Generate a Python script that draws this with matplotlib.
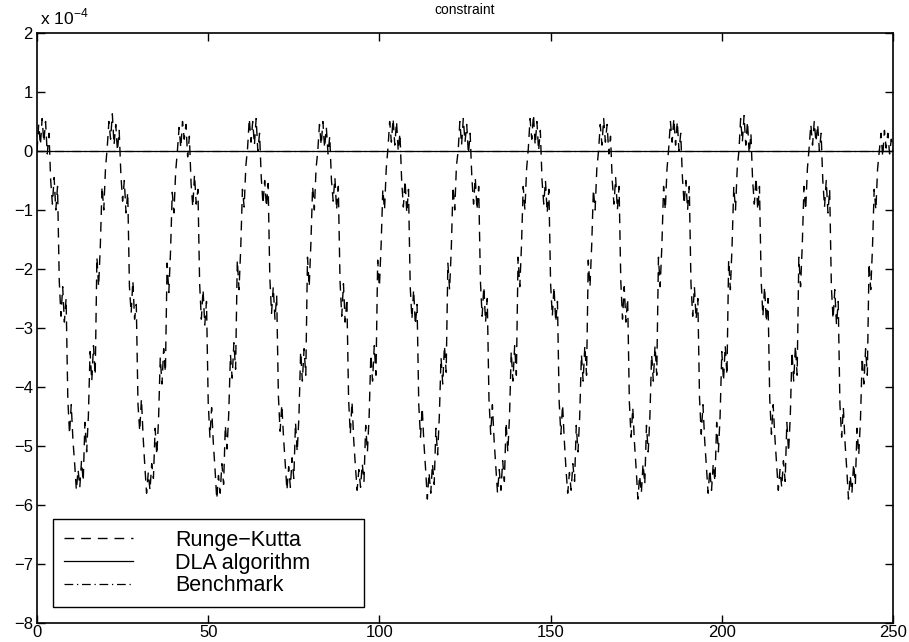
import numpy as np
import matplotlib
matplotlib.use('Agg')
import matplotlib.pyplot as plt

plt.rcParams['font.family'] = ['Liberation Sans', 'DejaVu Sans']
plt.rcParams['mathtext.fontset'] = 'custom'
plt.rcParams['mathtext.rm'] = 'Liberation Sans'

# time axis, step 0.5
t = np.arange(0, 250.01, 0.5)

# Runge-Kutta constraint error (units of 1e-4), one row per oscillation (~20.5 s)
rk = [
    0.0, 0.45, 0.1, 0.55, 0.15, 0.5, -0.05, 0.3, -0.5, -0.9, -0.45, -1.0, -0.6, -2.2, -2.8, -2.3, -2.9, -2.5, -4.2, -4.8, -4.3, -4.9, -5.3, -5.75, -5.4, -5.7, -5.25, -5.6, -4.6, -5.1, -4.5, -3.4, -3.9, -3.3, -3.8, -1.8, -2.3, -1.6, -0.6, -1.0, -0.3,
    0.05, 0.5, 0.2, 0.63, 0.1, 0.45, 0.0, 0.35, -0.4, -0.85, -0.5, -1.05, -0.7, -2.3, -2.75, -2.2, -2.85, -2.6, -4.3, -4.75, -4.2, -4.85, -5.35, -5.8, -5.45, -5.75, -5.3, -5.55, -4.7, -5.15, -4.55, -3.5, -3.95, -3.35, -3.75, -1.9, -2.4, -1.7, -0.7, -1.05, -0.35,
    0.0, 0.4, 0.05, 0.5, 0.2, 0.45, -0.1, 0.25, -0.55, -0.95, -0.4, -0.9, -0.65, -2.25, -2.85, -2.35, -2.95, -2.55, -4.25, -4.85, -4.35, -4.95, -5.4, -5.9, -5.5, -5.8, -5.3, -5.65, -4.65, -5.05, -4.45, -3.45, -3.85, -3.25, -3.7, -1.85, -2.35, -1.65, -0.65, -0.95, -0.25,
    0.05, 0.55, 0.15, 0.5, 0.1, 0.55, 0.0, 0.3, -0.45, -0.9, -0.5, -0.95, -0.55, -2.15, -2.75, -2.3, -2.85, -2.45, -4.15, -4.75, -4.3, -4.85, -5.3, -5.75, -5.35, -5.7, -5.2, -5.55, -4.6, -5.1, -4.5, -3.4, -3.9, -3.35, -3.8, -1.8, -2.3, -1.55, -0.6, -1.0, -0.3,
    0.0, 0.45, 0.1, 0.5, 0.05, 0.4, -0.05, 0.25, -0.5, -0.85, -0.45, -1.0, -0.6, -2.2, -2.8, -2.25, -2.9, -2.5, -4.2, -4.8, -4.25, -4.9, -5.35, -5.75, -5.4, -5.7, -5.3, -5.6, -4.65, -5.1, -4.5, -3.45, -3.9, -3.3, -3.8, -1.85, -2.3, -1.6, -0.65, -1.0, -0.3,
    0.05, 0.5, 0.15, 0.55, 0.1, 0.5, 0.0, 0.3, -0.5, -0.95, -0.5, -1.05, -0.65, -2.3, -2.85, -2.35, -2.95, -2.6, -4.3, -4.85, -4.35, -4.95, -5.4, -5.9, -5.45, -5.8, -5.3, -5.65, -4.7, -5.15, -4.5, -3.5, -3.95, -3.3, -3.75, -1.9, -2.35, -1.65, -0.6, -1.0, -0.25,
    0.0, 0.5, 0.1, 0.55, 0.15, 0.45, -0.05, 0.3, -0.45, -0.9, -0.45, -1.0, -0.6, -2.2, -2.8, -2.3, -2.9, -2.5, -4.2, -4.8, -4.3, -4.9, -5.35, -5.8, -5.4, -5.75, -5.25, -5.6, -4.6, -5.1, -4.5, -3.4, -3.9, -3.3, -3.8, -1.8, -2.3, -1.6, -0.6, -1.0, -0.3,
    0.05, 0.55, 0.2, 0.62, 0.1, 0.5, 0.0, 0.35, -0.5, -0.9, -0.5, -1.05, -0.65, -2.25, -2.8, -2.3, -2.9, -2.55, -4.25, -4.8, -4.3, -4.9, -5.4, -5.8, -5.45, -5.75, -5.3, -5.6, -4.65, -5.1, -4.5, -3.45, -3.9, -3.3, -3.8, -1.85, -2.3, -1.6, -0.65, -1.0, -0.3,
    0.0, 0.45, 0.1, 0.55, 0.15, 0.45, -0.05, 0.25, -0.5, -0.9, -0.45, -1.0, -0.6, -2.2, -2.85, -2.3, -2.9, -2.5, -4.25, -4.85, -4.35, -4.95, -5.4, -5.9, -5.5, -5.8, -5.3, -5.65, -4.65, -5.1, -4.5, -3.45, -3.9, -3.3, -3.8, -1.8, -2.3, -1.6, -0.6, -1.0, -0.3,
    0.05, 0.5, 0.15, 0.55, 0.1, 0.5, 0.0, 0.3, -0.45, -0.9, -0.5, -1.0, -0.6, -2.25, -2.8, -2.3, -2.85, -2.5, -4.2, -4.8, -4.3, -4.9, -5.35, -5.8, -5.4, -5.75, -5.3, -5.6, -4.6, -5.1, -4.5, -3.4, -3.9, -3.3, -3.8, -1.85, -2.35, -1.6, -0.6, -1.0, -0.3,
    0.0, 0.55, 0.15, 0.6, 0.1, 0.5, -0.05, 0.3, -0.5, -0.9, -0.45, -1.0, -0.6, -2.2, -2.8, -2.3, -2.9, -2.5, -4.2, -4.8, -4.3, -4.85, -5.3, -5.75, -5.4, -5.7, -5.25, -5.6, -4.6, -5.1, -4.5, -3.4, -3.9, -3.3, -3.8, -1.8, -2.3, -1.6, -0.6, -1.0, -0.3,
    0.05, 0.45, 0.1, 0.5, 0.15, 0.45, 0.0, 0.3, -0.5, -0.95, -0.5, -1.05, -0.65, -2.3, -2.85, -2.35, -2.95, -2.55, -4.3, -4.85, -4.35, -4.95, -5.4, -5.9, -5.5, -5.8, -5.3, -5.65, -4.7, -5.15, -4.55, -3.5, -3.95, -3.35, -3.8, -1.9, -2.35, -1.65, -0.65, -1.0, -0.3,
    0.0, 0.3, -0.1, 0.35, 0.05, 0.3, -0.05, 0.2, 0.0,
]
dla = np.zeros(len(t))
benchmark = np.zeros(len(t))

fig = plt.figure(figsize=(9.09, 6.42), dpi=100)
ax = fig.add_axes([0.0407, 0.0296, 0.9417, 0.919])

ax.plot(t, rk, color='k', lw=1.0, dashes=(7, 5), label='Runge\u2212Kutta')
ax.plot(t, dla, color='k', lw=0.9, label='DLA algorithm')
ax.plot(t, benchmark, color='k', lw=0.9, dashes=(7, 3, 1, 3), label='Benchmark')

ax.set_xlim(0, 250)
ax.set_ylim(-8, 2)
ax.set_xticks(np.arange(0, 251, 50))
ax.set_yticks(np.arange(-8, 3, 1))
ax.tick_params(direction='in', top=True, right=True, length=6, width=1, labelsize=12)
ax.tick_params(axis='x', pad=1.5)
ax.tick_params(axis='y', pad=3)
for s in ax.spines.values():
    s.set_linewidth(1.2)

ax.set_title('constraint', fontsize=10, pad=14)
ax.text(0.003, 1.01, r'x 10$^{-4}$', transform=ax.transAxes, ha='left', va='bottom', fontsize=12.5)

leg = ax.legend(loc='lower left', bbox_to_anchor=(0.019, 0.027, 0.363, 0.168), mode='expand',
                borderaxespad=0, fontsize=15.5, handlelength=3.2, handletextpad=1.95,
                labelspacing=0.08, borderpad=0.5, fancybox=False, framealpha=1)
leg.get_frame().set_edgecolor('k')
leg.get_frame().set_linewidth(1.0)

plt.savefig('out.png', dpi=100)
